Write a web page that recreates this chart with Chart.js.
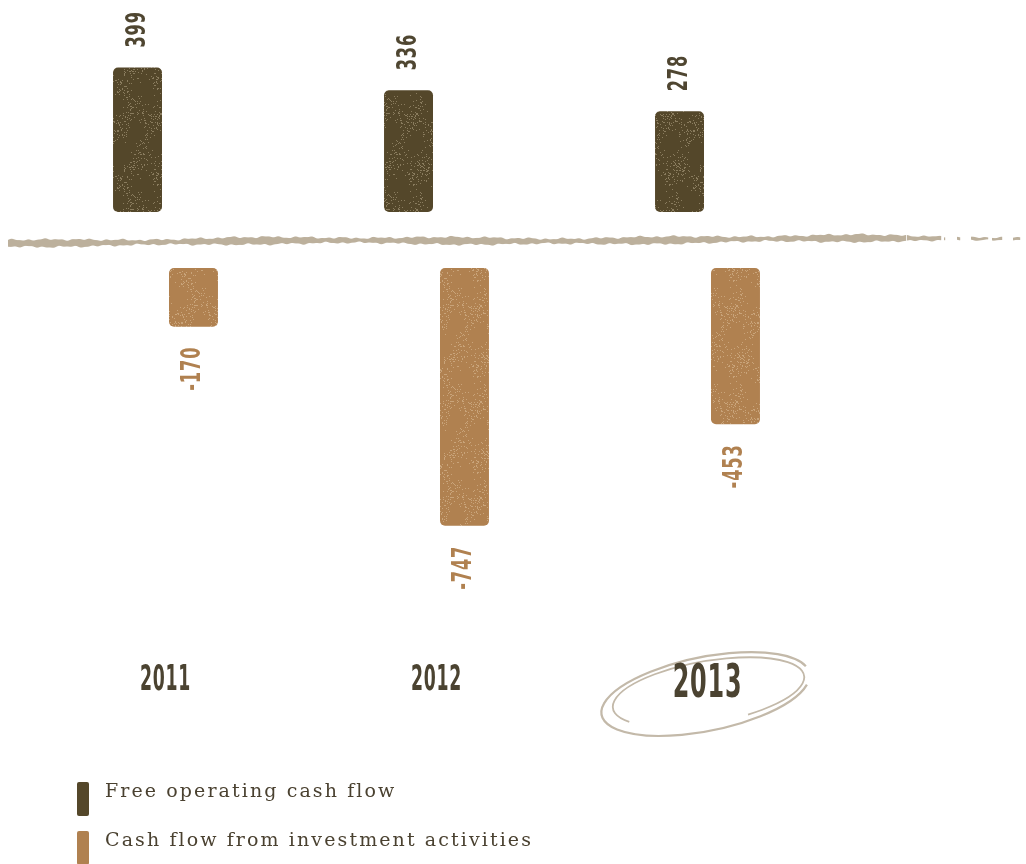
<html>
<head>
<title>Cash flow</title>
<script src="https://cdn.jsdelivr.net/npm/chart.js@4.4.1/dist/chart.umd.min.js"></script>
<style>
    body { margin: 0; background: #fff; }
    .wrap { position: relative; width: 1026px; height: 864px; overflow: hidden; }
    .legend { position: absolute; left: 77px; top: 779px; font-family: "DejaVu Serif", serif; font-size: 19px; letter-spacing: 2.1px; color: #4a4130; }
    .legend .item { position: relative; height: 49px; }
    .legend .box { position: absolute; left: 0; top: 3px; width: 12px; height: 34px; border-radius: 2px; }
    .legend .txt { position: absolute; left: 28px; top: 0; white-space: nowrap; }
</style>
</head>
<body>
<div class="wrap">
    <canvas id="myChart"></canvas>
    <div class="legend" id="legend"></div>
</div>
<script>
// data
const years = ['2011', '2012', '2013'];
const freeCashFlow = [399, 336, 278];
const investmentCashFlow = [-170, -747, -453];
const seriesNames = ['Free operating cash flow', 'Cash flow from investment activities'];
const highlightYear = '2013';

const darkColor = '#54472a';
const tanColor = '#b08150';

// px per unit and where the two zero lines sit (positive bars float above, negative below)
const posPx = 0.362, negPx = 0.345;
const chartH = 864;
const posZero = 212, negZero = 268;

// speckled fill like the worn print in the original
function speckle(base, light) {
    const c = document.createElement('canvas');
    c.width = 64; c.height = 96;
    const g = c.getContext('2d');
    g.fillStyle = base;
    g.fillRect(0, 0, 64, 96);
    g.fillStyle = light;
    for (let y = 0; y < 96; y++) {
        for (let x = 0; x < 64; x++) {
            const h = Math.sin(x * 12.9898 + y * 78.233) * 43758.5453;
            const f = h - Math.floor(h);
            const patch = Math.sin(x * 0.21 + y * 0.09) + Math.sin(y * 0.13 - x * 0.05);
            if (f > 0.93 - patch * 0.06) g.fillRect(x, y, 1, 1);
        }
    }
    return g.createPattern(c, 'repeat');
}

function condensedText(ctx, text, x, y, size, sx, rot, align, color) {
    ctx.save();
    ctx.translate(x, y);
    ctx.rotate(rot);
    ctx.scale(sx, 1);
    ctx.font = 'bold ' + size + 'px "DejaVu Sans"';
    ctx.fillStyle = color;
    ctx.textAlign = align;
    ctx.textBaseline = 'middle';
    ctx.letterSpacing = '1.5px';
    ctx.fillText(text, 0, 0);
    ctx.restore();
}

const decor = {
    id: 'decor',
    beforeDatasetsDraw(chart) {
        const ctx = chart.ctx;
        const mid = (chart.scales.yPos.getPixelForValue(0) + chart.scales.yNeg.getPixelForValue(0)) / 2;
        // rough brush line at zero
        ctx.save();
        ctx.fillStyle = '#bcb09c';
        for (let x = 8; x < 1020; x += 1) {
            let t = 6 + 1.4 * Math.sin(x * 0.031) + 1.0 * Math.sin(x * 0.17) + 0.6 * Math.sin(x * 0.73);
            if (x > 860) {
                const s = Math.sin(x * 0.31) + Math.sin(x * 0.117) + Math.sin(x * 0.051) + Math.sin(x * 0.9);
                if (s < (x - 860) / 55 - 2.4) continue;
                t *= 1 - (x - 860) / 280;
            }
            const c = mid + 2.5 - x * 0.004 + 0.9 * Math.sin(x * 0.012 + 1) + 0.5 * Math.sin(x * 0.4);
            ctx.fillRect(x, c - t / 2, 1.2, t);
        }
        ctx.restore();
    },
    afterDatasetsDraw(chart) {
        const ctx = chart.ctx;
        // value labels
        chart.data.datasets.forEach((ds, i) => {
            chart.getDatasetMeta(i).data.forEach((bar, j) => {
                const v = ds.data[j];
                if (v >= 0) {
                    condensedText(ctx, String(v), bar.x, bar.y - 20, 27, 0.6, -Math.PI / 2, 'left', '#4f4631');
                } else {
                    condensedText(ctx, String(v), bar.x, bar.y + 20, 27, 0.6, -Math.PI / 2, 'right', tanColor);
                }
            });
        });
        // year labels
        const xs = chart.scales.x;
        years.forEach((yr, j) => {
            const x = xs.getPixelForValue(j);
            if (yr === highlightYear) {
                ctx.save();
                ctx.strokeStyle = '#c3b9a9';
                ctx.lineWidth = 2.2;
                ctx.beginPath();
                ctx.ellipse(x - 2, 694, 106, 37, -0.2, 0.3, Math.PI * 2 - 0.2);
                ctx.stroke();
                ctx.lineWidth = 1.8;
                ctx.beginPath();
                ctx.ellipse(x + 1, 692, 97, 31, -0.17, 2.6, Math.PI * 2 + 1.2);
                ctx.stroke();
                ctx.restore();
                condensedText(ctx, yr, x, 685, 46, 0.52, 0, 'center', '#4b4331');
            } else {
                condensedText(ctx, yr, x, 681, 36, 0.48, 0, 'center', '#4b4331');
            }
        });
    }
};

const ctx = document.getElementById('myChart').getContext('2d');
const chart = new Chart(ctx, {
    type: 'bar',
    data: {
        labels: years,
        datasets: [{
            label: seriesNames[0],
            data: freeCashFlow,
            yAxisID: 'yPos',
            backgroundColor: speckle(darkColor, '#8a7c5e'),
            borderRadius: 5,
            borderSkipped: false,
            categoryPercentage: 0.413,
            barPercentage: 0.875
        }, {
            label: seriesNames[1],
            data: investmentCashFlow,
            yAxisID: 'yNeg',
            backgroundColor: speckle(tanColor, '#c9a47a'),
            borderRadius: 5,
            borderSkipped: false,
            categoryPercentage: 0.413,
            barPercentage: 0.875
        }]
    },
    options: {
        responsive: true,
        maintainAspectRatio: false,
        animation: false,
        layout: { padding: { left: 30, right: 183, top: 0, bottom: 0 } },
        plugins: { legend: { display: false }, tooltip: { enabled: false } },
        scales: {
            x: { display: false },
            yPos: { display: false, min: -(chartH - posZero) / posPx, max: posZero / posPx },
            yNeg: { display: false, min: -(chartH - negZero) / negPx, max: negZero / negPx }
        }
    },
    plugins: [decor]
});

// legend
const legendEl = document.getElementById('legend');
[darkColor, tanColor].forEach((col, i) => {
    legendEl.innerHTML += '<div class="item"><div class="box" style="background:' + col + '"></div><div class="txt">' + seriesNames[i] + '</div></div>';
});
</script>
</body>
</html>
